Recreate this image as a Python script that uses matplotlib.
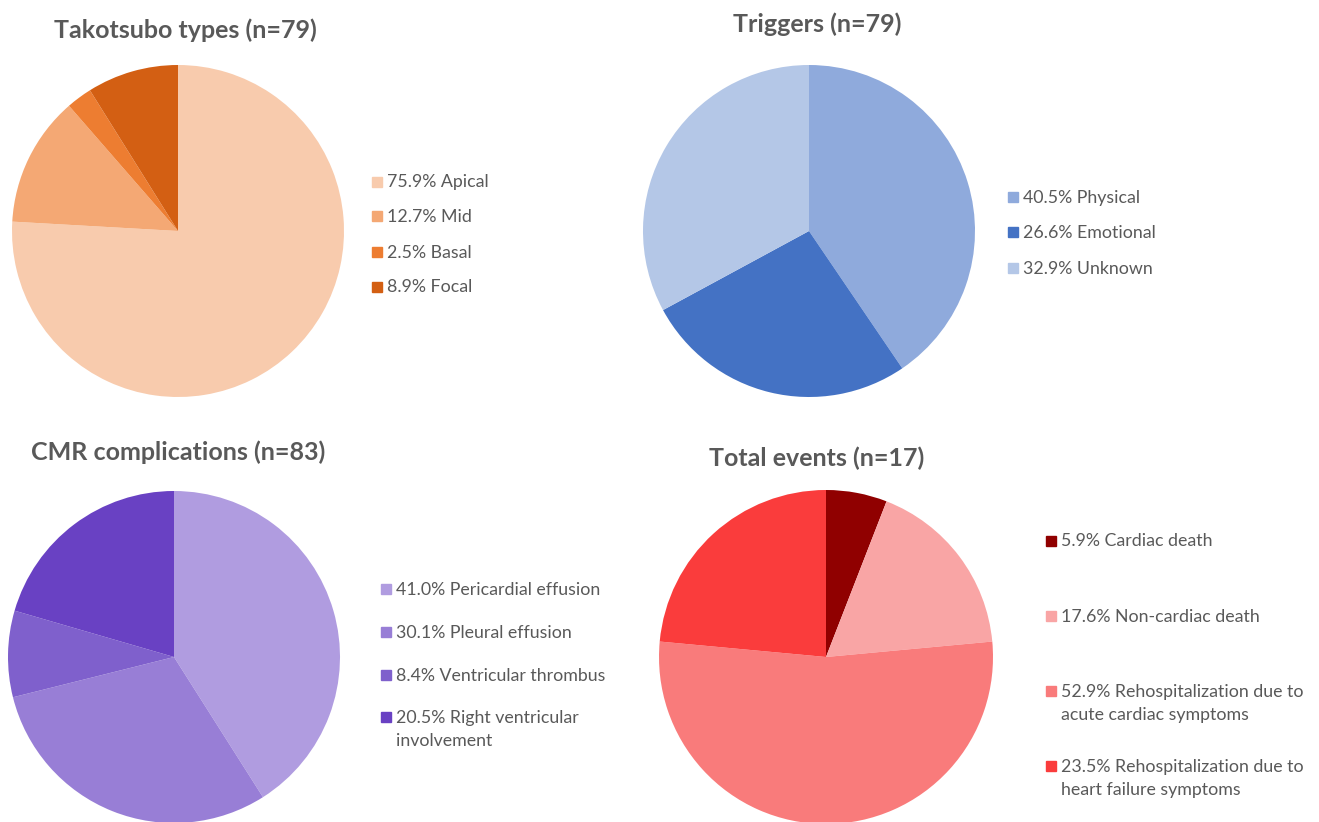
import matplotlib.pyplot as plt
from matplotlib.patches import Rectangle

plt.rcParams["font.family"] = ["Lato", "DejaVu Sans"]

W, H = 1319, 822

# data
tako_labels = ["Apical", "Mid", "Basal", "Focal"]
tako_values = [75.9, 12.7, 2.5, 8.9]
tako_colors = ["#F8CBAD", "#F4A874", "#ED7D31", "#D35F13"]

trig_labels = ["Physical", "Emotional", "Unknown"]
trig_values = [40.5, 26.6, 32.9]
trig_colors = ["#8FAADC", "#4472C4", "#B4C7E7"]

cmr_labels = ["Pericardial effusion", "Pleural effusion", "Ventricular thrombus",
              "Right ventricular\ninvolvement"]
cmr_values = [41.0, 30.1, 8.4, 20.5]
cmr_colors = ["#B09CE0", "#987ED6", "#7F60CC", "#6941C3"]

ev_labels = ["Cardiac death", "Non-cardiac death",
             "Rehospitalization due to\nacute cardiac symptoms",
             "Rehospitalization due to\nheart failure symptoms"]
ev_values = [5.9, 17.6, 52.9, 23.5]
ev_colors = ["#900000", "#F9A5A5", "#F97B7B", "#FA3C3C"]

panels = [
    # title, labels, values, colors, pie centre px, radius px, title pos, legend x, legend ys
    ("Takotsubo types (n=79)", tako_labels, tako_values, tako_colors,
     (178, 231), 166, (185, 30), 372, [182, 216, 252, 287]),
    ("Triggers (n=79)", trig_labels, trig_values, trig_colors,
     (809, 231), 166, (817, 24), 1008, [197, 232, 268]),
    ("CMR complications (n=83)", cmr_labels, cmr_values, cmr_colors,
     (174, 657), 166, (178, 452), 381, [589, 632, 675, 717]),
    ("Total events (n=17)", ev_labels, ev_values, ev_colors,
     (826, 657), 167, (817, 458), 1046, [541, 616, 691, 766]),
]

fig = plt.figure(figsize=(W / 100, H / 100), dpi=100)
grey = "#595959"

for title, labels, values, colors, (cx, cy), r, (tx, ty), lx, lys in panels:
    ax = fig.add_axes([(cx - r) / W, 1 - (cy + r) / H, 2 * r / W, 2 * r / H])
    wedges, _ = ax.pie(values, colors=colors, startangle=90, counterclock=False,
                       radius=1, wedgeprops=dict(linewidth=0))
    for w in wedges:
        w.set_clip_on(False)
    ax.set_xlim(-1, 1)
    ax.set_ylim(-1, 1)
    ax.set_aspect("equal")
    fig.text(tx / W, 1 - ty / H, title, ha="center", va="center",
             fontsize=18, fontweight="bold", color=grey)
    for lab, val, col, y in zip(labels, values, colors, lys):
        fig.patches.append(Rectangle((lx / W, 1 - (y + 5) / H), 10 / W, 10 / H,
                                     transform=fig.transFigure, color=col))
        fig.text((lx + 15) / W, 1 - (y - 7.5) / H, f"{val:.1f}% {lab}",
                 ha="left", va="top", fontsize=12.8, color=grey, linespacing=1.55)

plt.savefig("out.png", dpi=100)
